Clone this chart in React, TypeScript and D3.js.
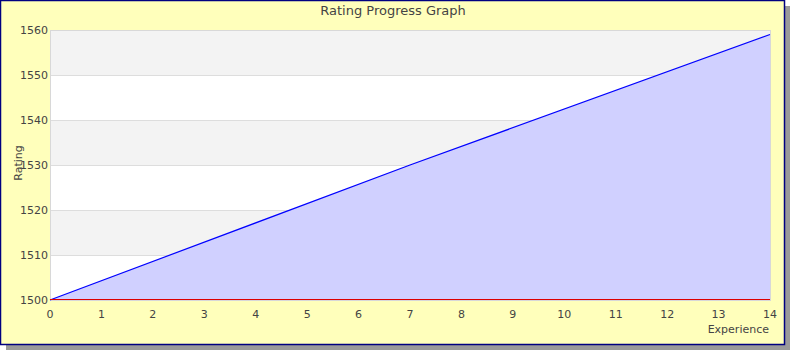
import { useEffect, useRef } from "react";
import * as d3 from "d3";

const experience = [0, 7, 14];
const rating = [1500, 1530, 1559];
const yTicks = [1500, 1510, 1520, 1530, 1540, 1550, 1560];
const xTicks = d3.range(0, 15);

const RatingChart = () => {
  const chartRef = useRef(null);

  useEffect(() => {
    document.body.style.margin = "0";
    const width = 790;
    const height = 350;
    const left = 50;
    const right = 770;
    const top = 30;
    const bottom = 300;
    const font = "DejaVu Sans, sans-serif";

    const svg = d3
      .select(chartRef.current)
      .append("svg")
      .attr("width", width)
      .attr("height", height)
      .style("display", "block");

    // shadow + frame
    svg
      .append("rect")
      .attr("x", 6)
      .attr("y", 6)
      .attr("width", 784)
      .attr("height", 344)
      .attr("fill", "#9a9a9a");
    svg
      .append("rect")
      .attr("x", 0.5)
      .attr("y", 0.5)
      .attr("width", 784)
      .attr("height", 344)
      .attr("fill", "#ffffbb")
      .attr("stroke", "#000080")
      .attr("stroke-width", 1.5);

    const x = d3.scaleLinear().domain([0, 14]).range([left, right]);
    const y = d3.scaleLinear().domain([1500, 1560]).range([bottom, top]);

    // bands
    const bands = yTicks.slice(0, -1);
    svg
      .append("g")
      .selectAll("rect")
      .data(bands)
      .join("rect")
      .attr("x", left)
      .attr("width", right - left)
      .attr("y", (d) => y(d + 10))
      .attr("height", (d) => y(d) - y(d + 10))
      .attr("fill", (_, i) => (i % 2 === 0 ? "#ffffff" : "#f3f3f3"));

    // grid
    svg
      .append("g")
      .selectAll("line")
      .data(yTicks)
      .join("line")
      .attr("x1", left)
      .attr("x2", right)
      .attr("y1", (d) => y(d) + 0.5)
      .attr("y2", (d) => y(d) + 0.5)
      .attr("stroke", "#dddddd");

    svg
      .append("rect")
      .attr("x", left + 0.5)
      .attr("y", top + 0.5)
      .attr("width", right - left)
      .attr("height", bottom - top)
      .attr("fill", "none")
      .attr("stroke", "#d8d8d8");

    const pts = experience.map((e, i) => [e, rating[i]] as [number, number]);

    const area = d3
      .area<[number, number]>()
      .x((d) => x(d[0]))
      .y0(y(1500))
      .y1((d) => y(d[1]));
    svg.append("path").datum(pts).attr("d", area).attr("fill", "#d0d0ff");

    const line = d3
      .line<[number, number]>()
      .x((d) => x(d[0]))
      .y((d) => y(d[1]));
    svg
      .append("path")
      .datum(pts)
      .attr("d", line)
      .attr("fill", "none")
      .attr("stroke", "#0000ff")
      .attr("stroke-width", 1.2);

    // x axis line
    svg
      .append("line")
      .attr("x1", left)
      .attr("x2", right)
      .attr("y1", bottom - 0.5)
      .attr("y2", bottom - 0.5)
      .attr("stroke", "#dd0000");

    // tick labels
    svg
      .append("g")
      .selectAll("text")
      .data(yTicks)
      .join("text")
      .attr("x", left - 2)
      .attr("y", (d) => y(d) + 4)
      .attr("text-anchor", "end")
      .attr("font-family", font)
      .attr("font-size", 11)
      .attr("fill", "#444")
      .text((d) => d);

    svg
      .append("g")
      .selectAll("text")
      .data(xTicks)
      .join("text")
      .attr("x", (d) => x(d))
      .attr("y", bottom + 18)
      .attr("text-anchor", "middle")
      .attr("font-family", font)
      .attr("font-size", 11)
      .attr("fill", "#444")
      .text((d) => d);

    svg
      .append("text")
      .attr("x", right - 1)
      .attr("y", 333)
      .attr("text-anchor", "end")
      .attr("font-family", font)
      .attr("font-size", 11)
      .attr("fill", "#444")
      .text("Experience");

    svg
      .append("text")
      .attr("transform", "translate(22,163) rotate(-90)")
      .attr("text-anchor", "middle")
      .attr("font-family", font)
      .attr("font-size", 11)
      .attr("fill", "#444")
      .text("Rating");

    svg
      .append("text")
      .attr("x", 393)
      .attr("y", 15)
      .attr("text-anchor", "middle")
      .attr("font-family", font)
      .attr("font-size", 13)
      .attr("fill", "#444")
      .text("Rating Progress Graph");

    return () => {
      d3.select(chartRef.current).selectAll("*").remove();
    };
  }, []);

  return <div ref={chartRef}></div>;
};

export default function App() {
  return <RatingChart />;
}
